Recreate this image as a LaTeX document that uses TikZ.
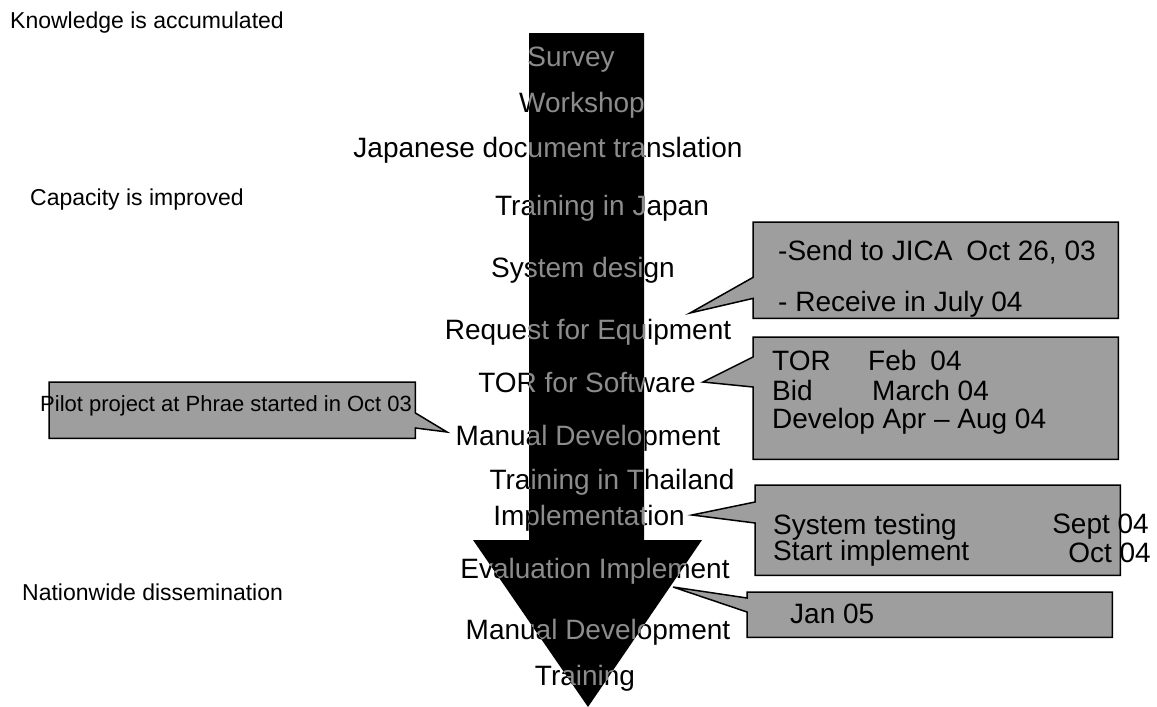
\documentclass[tikz,border=0pt]{standalone}
\usepackage{fontspec}
\setmainfont{Liberation Sans}
\usetikzlibrary{positioning}

\newcommand\stagelist{60/571/Survey, 105/582/Workshop, 150/548/Japanese document translation,
    208/602/Training in Japan, 270/583/System design, 332/588/Request for Equipment,
    383/587/TOR for Software, 438/588/Manual Development, 482/612/Training in Thailand,
    518/589/Implementation, 571/595/Evaluation Implement, 632/598/Manual Development,
    678/585/Training}

\begin{document}
\begin{tikzpicture}[x=1pt, y=-1pt,
    stage/.style={font=\fontsize{28}{30}\selectfont, inner sep=0pt},
    phase/.style={font=\fontsize{23}{26}\selectfont, inner sep=0pt, anchor=west},
    callout/.style={fill=black!38, draw=black, line width=1.5pt, line join=miter},
    note/.style={font=\fontsize{28}{30}\selectfont, inner sep=0pt, anchor=west}]
    \useasboundingbox (0,0) rectangle (1157,707);

    % the big arrow
    \fill (529,33) -- (644,33) -- (644,540) -- (702,540) -- (588,707) -- (473,540) -- (529,540) -- cycle;

    \foreach \y/\x/\t [count=\i] in \stagelist
        \node (stage\i) [stage] at (\x,\y) {\t};
    % text seen through the arrow
    \begin{scope}
        \clip (529,33) -- (644,33) -- (644,540) -- (702,540) -- (588,707) -- (473,540) -- (529,540) -- cycle;
        \foreach \y/\x/\t in \stagelist
            \node [stage, text=black!45] at (\x,\y) {\t};
    \end{scope}

    \node (knowledge) [phase] at (10,23) {Knowledge is accumulated};
    \node (capacity) [phase] at (30,200) {Capacity is improved};
    \node (nationwide) [phase] at (22,592) {Nationwide dissemination};

    % callouts
    \node (reqbox) [minimum width=365pt, minimum height=96pt, inner sep=0pt, anchor=north west] at (753,222) {};
    \coordinate (reqtip) at (690,313);
    \draw [callout] (reqbox.north west) -- (reqbox.north east) -- (reqbox.south east) -- (reqbox.south west)
        -- ([yshift=20pt]reqbox.south west) -- (reqtip) -- ([yshift=41pt]reqbox.south west) -- cycle;
    \node (sendjica) [note] at (778,252) {-Send to JICA\enspace Oct 26, 03};
    \node (recvjuly) [note] at (778,304) {- Receive in July 04};

    \node (torbox) [minimum width=365pt, minimum height=122pt, inner sep=0pt, anchor=north west] at (753,337) {};
    \coordinate (tortip) at (703,382);
    \draw [callout] (torbox.north west) -- (torbox.north east) -- (torbox.south east) -- (torbox.south west)
        -- ([yshift=-50pt]torbox.north west) -- (tortip) -- ([yshift=-20pt]torbox.north west) -- cycle;
    \node (torline) [note] at (772,360) {\makebox[96pt][l]{TOR}Feb\enspace 04};
    \node (bidline) [note] at (772,390) {\makebox[100pt][l]{Bid}March 04};
    \node (devline) [note] at (772,421) {Develop Apr -- Aug 04};

    \node (pilotbox) [minimum width=366pt, minimum height=56pt, inner sep=0pt, anchor=north west] at (49,382) {};
    \coordinate (pilottip) at (447,432);
    \draw [callout] (pilotbox.north west) -- (pilotbox.north east) -- ([yshift=-31pt]pilotbox.north east)
        -- (pilottip) -- ([yshift=-46pt]pilotbox.north east) -- (pilotbox.south east) -- (pilotbox.south west) -- cycle;
    \node (pilot) [note, font=\fontsize{22}{24}\selectfont] at (40,406) {Pilot project at Phrae started in Oct 03};

    \node (implbox) [minimum width=365pt, minimum height=90pt, inner sep=0pt, anchor=north west] at (755,485) {};
    \coordinate (impltip) at (692,515);
    \draw [callout] (implbox.north west) -- (implbox.north east) -- (implbox.south east) -- (implbox.south west)
        -- ([yshift=-38pt]implbox.north west) -- (impltip) -- ([yshift=-17pt]implbox.north west) -- cycle;
    \node (systest) [note] at (773,527) {System testing};
    \node (septdate) [note, anchor=east] at (1149,527) {Sept 04};
    \node (startimpl) [note] at (773,553) {Start implement};
    \node (octdate) [note, anchor=east] at (1151,553) {Oct 04};

    \node (janbox) [minimum width=365pt, minimum height=45pt, inner sep=0pt, anchor=north west] at (747,592) {};
    \coordinate (jantip) at (673,587);
    \draw [callout] (janbox.north west) -- (janbox.north east) -- (janbox.south east) -- (janbox.south west)
        -- ([yshift=-20pt]janbox.north west) -- (jantip) -- ([yshift=-6pt]janbox.north west) -- cycle;
    \node (jan) [note] at (790,614) {Jan 05};
\end{tikzpicture}
\end{document}
